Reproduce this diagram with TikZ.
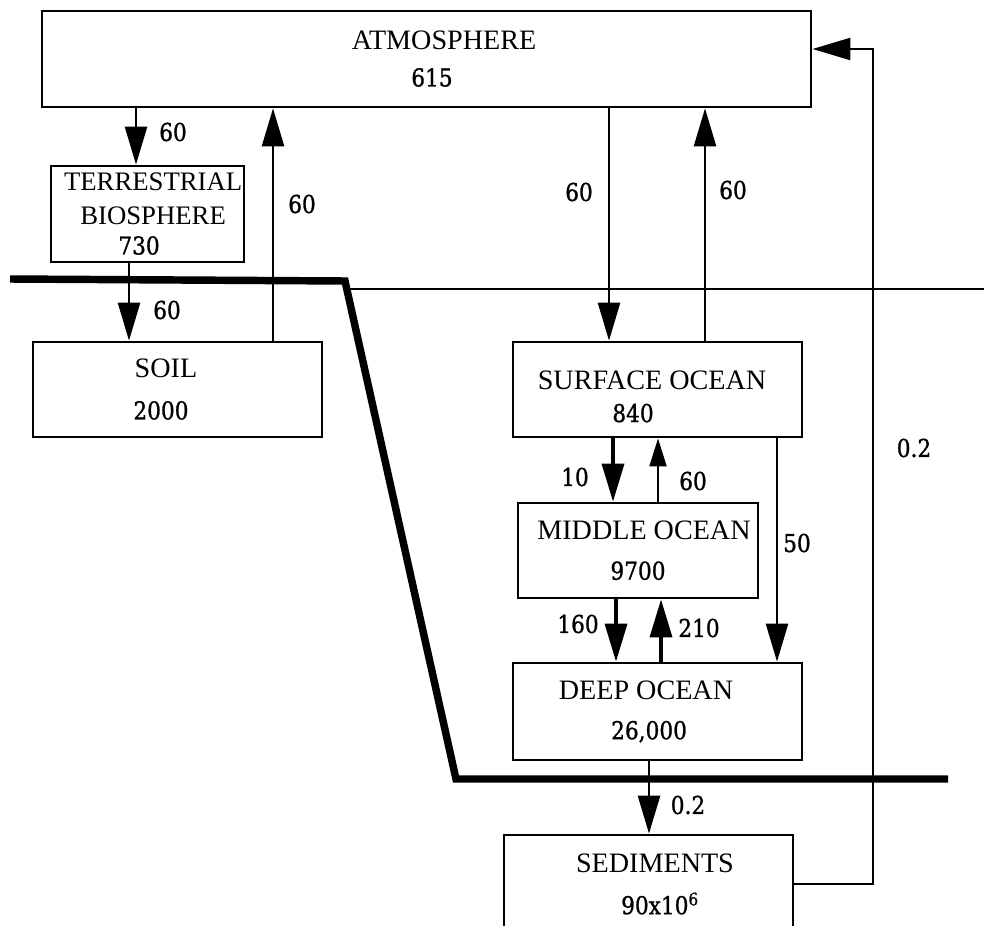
\documentclass[tikz,border=0pt]{standalone}
\usepackage{fontspec}
\setmainfont{Liberation Serif}
\newfontfamily\numfont[FakeStretch=0.88,FakeBold=1]{DejaVu Serif}
\usetikzlibrary{arrows.meta, positioning}
\newcommand{\nm}[1]{{\numfont\fontsize{17.5}{23}\selectfont #1}}
\tikzstyle{box}       = [draw, rectangle, line width=1.9pt, inner sep=1pt, align=center, font=\fontsize{20}{23}\selectfont]
\tikzstyle{flow}      = [line width=1.9pt, -{Triangle[length=27pt,width=15.6pt]}]
\tikzstyle{flowthick} = [flow, line width=2.6pt]
\tikzstyle{flowsmall} = [line width=1.9pt, -{Triangle[length=20pt,width=12pt]}]
\tikzstyle{lbl}       = [inner sep=0pt, font=\numfont\fontsize{17.5}{20}\selectfont]
\tikzstyle{shore}     = [line width=5.3pt, line join=miter]
\tikzstyle{sealevel}  = [line width=1.8pt]

\begin{document}
\begin{tikzpicture}[x=0.025cm, y=-0.025cm]
\useasboundingbox (0,0) rectangle (984,925);

% rezervoáry
\node[box, minimum width=19.225cm, minimum height=2.4cm] (atm) at (426.5,59)
  {\hspace*{24.9pt}ATMOSPHERE\\[3pt]\hspace*{7.8pt}\nm{615}};
\node[box, minimum width=4.825cm, minimum height=2.4cm, font=\fontsize{19}{23}\selectfont] (terr) at (147.5,214)
  {\hspace*{8pt}TERRESTRIAL\\[1.2pt]\hspace*{8pt}BIOSPHERE\\[-2pt]\hspace*{-12pt}\nm{730}};
\node[box, minimum width=7.225cm, minimum height=2.375cm] (soil) at (177.5,389.5)
  {\hspace*{-16.4pt}SOIL\\[6.5pt]\hspace*{-23.5pt}\nm{2000}};
\node[box, minimum width=7.225cm, minimum height=2.375cm] (surf) at (657.5,389.5)
  {\rule{0pt}{23.5pt}\hspace*{-7.8pt}SURFACE OCEAN\\\hspace*{-34.8pt}\nm{840}};
\node[box, minimum width=6cm, minimum height=2.375cm] (mid) at (638,550.5)
  {\hspace*{8.5pt}MIDDLE OCEAN\\[5.5pt]\nm{9700}};
\node[box, minimum width=7.225cm, minimum height=2.425cm] (deep) at (657.5,711.5)
  {\hspace*{-16.4pt}DEEP OCEAN\\[5.5pt]\hspace*{-12pt}\nm{26,000}};
\node[box, minimum width=7.225cm, minimum height=2.45cm] (sed) at (648.5,884)
  {\hspace*{9.2pt}SEDIMENTS\\[6.9pt]\hspace*{16.4pt}\nm{90x10\textsuperscript{6}}};

% hranice pevnina / oceán / sedimenty
\draw[shore] (10,279) -- (345,281) -- (456,779) -- (948,779);
\draw[sealevel] (350,289) -- (984,289);

% toky
\coordinate (ret) at (873,49);
\draw[flow] (136,0 |- atm.south) -- (136,0 |- terr.north);
\draw[flow] (129,0 |- terr.south) -- (129,0 |- soil.north);
\draw[flow] (273,0 |- soil.north) -- (273,0 |- atm.south);
\draw[flow] (609,0 |- atm.south) -- (609,0 |- surf.north);
\draw[flow] (705,0 |- surf.north) -- (705,0 |- atm.south);
\draw[flowthick] (613,0 |- surf.south) -- (613,0 |- mid.north);
\draw[flowsmall] (658,0 |- mid.north) -- (658,0 |- surf.south);
\draw[flowthick] (616,0 |- mid.south) -- (616,0 |- deep.north);
\draw[flowthick] (661,0 |- deep.north) -- (661,0 |- mid.south);
\draw[flow] (777,0 |- surf.south) -- (777,0 |- deep.north);
\draw[flow] (649,0 |- deep.south) -- (649,0 |- sed.north);
\draw[flow] (sed.east) -| (ret) -- (ret -| atm.east);

% popisky toků
\node[lbl] (f1) at (173,132) {60};
\node[lbl] (f2) at (167,310) {60};
\node[lbl] (f3) at (302,204) {60};
\node[lbl] (f4) at (579,192) {60};
\node[lbl] (f5) at (733,190) {60};
\node[lbl] (f6) at (575,477) {10};
\node[lbl] (f7) at (693,481) {60};
\node[lbl] (f8) at (578,624) {160};
\node[lbl] (f9) at (699,628) {210};
\node[lbl] (f10) at (797,543) {50};
\node[lbl] (f11) at (688,805) {0.2};
\node[lbl] (f12) at (914,448) {0.2};

\end{tikzpicture}
\end{document}
